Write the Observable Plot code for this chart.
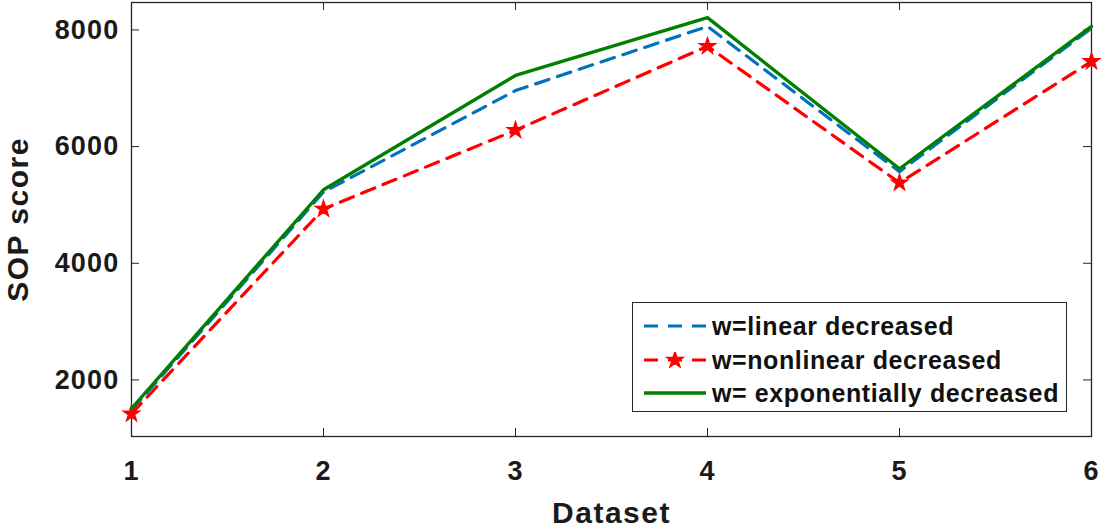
<!DOCTYPE html>
<html>
<head>
<meta charset="utf-8">
<script src="https://cdn.jsdelivr.net/npm/d3@7"></script>
<script src="https://cdn.jsdelivr.net/npm/@observablehq/plot@0.6"></script>
<style>
  html, body { margin: 0; padding: 0; background: #fff; }
  #wrap { position: relative; width: 1103px; height: 527px; font-family: "Liberation Sans", Arial, sans-serif; font-weight: bold; }
  #legend { position: absolute; left: 632px; top: 302px; width: 435px; height: 110px; border: 1px solid #262626; background: #fff; box-sizing: border-box; }
  .row { position: absolute; left: 11px; height: 30px; display: flex; align-items: center; font-size: 25px; color: #111; letter-spacing: 0.6px; white-space: nowrap; }
  .row svg { margin-right: 6px; }
</style>
</head>
<body>
<div id="wrap"></div>
<script>
const datasets = [1, 2, 3, 4, 5, 6];
const linearDecreased = [1480, 5220, 6960, 8060, 5570, 8030];
const nonlinearDecreased = [1420, 4930, 6280, 7720, 5380, 7460];
const exponentiallyDecreased = [1510, 5260, 7220, 8210, 5620, 8060];
const yTicks = [2000, 4000, 6000, 8000];
const seriesNames = ["w=linear decreased", "w=nonlinear decreased", "w= exponentially decreased"];
const seriesColors = ["#0072BD", "#FF0000", "#008000"];

const rows = (vals, name) => datasets.map((d, i) => ({x: d, y: vals[i], s: name}));
const blue = rows(linearDecreased, seriesNames[0]);
const red = rows(nonlinearDecreased, seriesNames[1]);
const green = rows(exponentiallyDecreased, seriesNames[2]);

const W = 1103, H = 527, mL = 131, mR = 12, mT = 2, mB = 91;
const pw = W - mL - mR, ph = H - mT - mB, tl = 8;

const chart = Plot.plot({
  width: W, height: H,
  marginLeft: mL, marginRight: mR, marginTop: mT, marginBottom: mB,
  style: {fontFamily: '"Liberation Sans", Arial, sans-serif', fontWeight: "bold", fontSize: "26px", color: "#1a1a1a", background: "#fff"},
  x: {domain: [1, 6]},
  y: {domain: [1030, 8470]},
  marks: [
    Plot.axisX(datasets, {tickSize: 0, tickPadding: 24, fontSize: 27, label: "Dataset", labelAnchor: "center", labelArrow: "none", labelOffset: 86, tickFormat: d => String(d)}),
    Plot.axisY(yTicks, {tickSize: 0, tickPadding: 12, fontSize: 27, label: "SOP score", labelAnchor: "center", labelArrow: "none", labelOffset: 125, tickFormat: d => String(d)}),
    Plot.tickX(datasets, {x: d => d, insetTop: ph - tl, stroke: "#262626"}),
    Plot.tickX(datasets, {x: d => d, insetBottom: ph - tl, stroke: "#262626"}),
    Plot.tickY(yTicks, {y: d => d, insetRight: pw - tl, stroke: "#262626"}),
    Plot.tickY(yTicks, {y: d => d, insetLeft: pw - tl, stroke: "#262626"}),
    Plot.frame({stroke: "#262626", strokeWidth: 1.3}),
    Plot.lineY(blue, {x: "x", y: "y", stroke: seriesColors[0], strokeWidth: 3.2, strokeDasharray: "14,9"}),
    Plot.lineY(red, {x: "x", y: "y", stroke: seriesColors[1], strokeWidth: 3.2, strokeDasharray: "14,9"}),
    Plot.dot(red, {x: "x", y: "y", symbol: "star", r: 5, fill: seriesColors[1], stroke: seriesColors[1], strokeWidth: 1.5}),
    Plot.lineY(green, {x: "x", y: "y", stroke: seriesColors[2], strokeWidth: 3.4})
  ]
});
chart.querySelectorAll("g[aria-label='x-axis tick label'], g[aria-label='y-axis tick label']").forEach(g => { g.setAttribute("font-size", 27); g.setAttribute("letter-spacing", 1.2); g.querySelectorAll("text").forEach(t => t.setAttribute("font-size", 27)); });
chart.querySelectorAll("g[aria-label='x-axis label'], g[aria-label='y-axis label']").forEach(g => { g.setAttribute("font-size", 30); g.setAttribute("letter-spacing", 1.5); g.querySelectorAll("text").forEach(t => t.setAttribute("font-size", 30)); });
const wrap = document.getElementById("wrap");
wrap.appendChild(chart);

const legend = document.createElement("div");
legend.id = "legend";
const rowTops = [8, 42, 75];
seriesNames.forEach((name, i) => {
  const r = document.createElement("div");
  r.className = "row";
  r.style.top = rowTops[i] + "px";
  let sample;
  if (i === 0) sample = `<svg width="62" height="12"><line x1="0" y1="6" x2="62" y2="6" stroke="${seriesColors[0]}" stroke-width="3.2" stroke-dasharray="14,10"/></svg>`;
  else if (i === 1) sample = `<svg width="62" height="16"><line x1="0" y1="8" x2="62" y2="8" stroke="${seriesColors[1]}" stroke-width="3.2" stroke-dasharray="14,10"/><path d="${d3.symbol(d3.symbolStar, 80)()}" transform="translate(31,8)" fill="${seriesColors[1]}" stroke="${seriesColors[1]}" stroke-width="1.5"/></svg>`;
  else sample = `<svg width="62" height="12"><line x1="0" y1="6" x2="62" y2="6" stroke="${seriesColors[2]}" stroke-width="3.4"/></svg>`;
  r.innerHTML = sample + `<span>${name}</span>`;
  legend.appendChild(r);
});
wrap.appendChild(legend);
</script>
</body>
</html>
